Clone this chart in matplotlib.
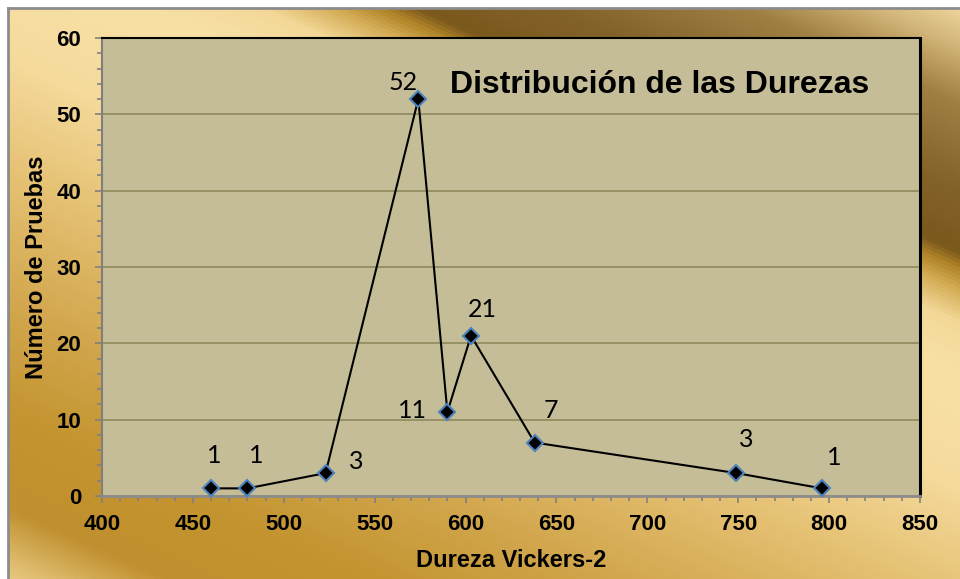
import numpy as np
import matplotlib.pyplot as plt
from matplotlib.colors import LinearSegmentedColormap

# Hardness distribution (Vickers) vs number of tests
dureza = [460, 480, 523, 574, 590, 603, 638, 749, 796]
pruebas = [1, 1, 3, 52, 11, 21, 7, 3, 1]

xticks = list(range(400, 851, 50))
yticks = list(range(0, 61, 10))

# where each value label sits relative to its point (points)
label_offsets = [(2, 24), (6, 24), (22, 8), (-11, 12), (-25, 1),
                 (8, 19), (12, 23), (7, 24), (9, 22)]

plt.rcParams['font.family'] = 'Liberation Sans'
plt.rcParams['font.weight'] = 'bold'
plt.rcParams['axes.labelweight'] = 'bold'

# gold gradient for the chart frame
stops = [(0.00, '#F7E0A8'), (0.05, '#D2B578'), (0.106, '#9F7F42'),
         (0.191, '#83622A'), (0.250, '#7B581C'), (0.266, '#B08428'),
         (0.287, '#D4AC55'), (0.319, '#F3D898'), (0.372, '#F8E0A5'),
         (0.479, '#F5DA9C'), (0.585, '#E6C275'), (0.723, '#D1A54B'),
         (0.830, '#C3942F'), (0.915, '#C0902E'), (0.957, '#D9B463'),
         (1.00, '#F0D593')]
gold = LinearSegmentedColormap.from_list('gold', stops)

fig = plt.figure(figsize=(9.6, 5.79), dpi=100)
fig.patch.set_facecolor('white')

W, H = 952, 571
bg = fig.add_axes([8 / 960, 0, W / 960, H / 579], zorder=0)
xx, yy = np.meshgrid(np.arange(W) + 8, np.arange(H) + 8)
t = (-0.41 * xx + 0.91 * yy + 400) / 940
bg.imshow(gold(np.clip(t, 0, 1)), aspect='auto', extent=(0, 1, 0, 1),
          origin='upper', interpolation='bilinear')
bg.set_xlim(0, 1)
bg.set_ylim(0, 1)
bg.set_xticks([])
bg.set_yticks([])
for side in ('right', 'bottom'):
    bg.spines[side].set_visible(False)
for side in ('left', 'top'):
    bg.spines[side].set_color('#8C8C8C')
    bg.spines[side].set_linewidth(2)

ax = fig.add_axes([102 / 960, 83 / 579, 818 / 960, 458 / 579], zorder=1)
ax.set_facecolor('#C4BD97')

ax.plot(dureza, pruebas, color='black', lw=1.5, marker='D', ms=8,
        mfc='black', mec='#4F81BD', mew=1.5, zorder=3, clip_on=False)

for x, y, (dx, dy) in zip(dureza, pruebas, label_offsets):
    ax.annotate(str(y), (x, y), xytext=(dx, dy), textcoords='offset points',
                ha='center', va='center', fontsize=18, fontweight='normal',
                family='Lato', color='black')

ax.set_xlim(400, 850)
ax.set_ylim(0, 60)
ax.set_xticks(xticks)
ax.set_xticks(range(400, 851, 10), minor=True)
ax.set_yticks(yticks)
ax.set_yticks(range(0, 61, 2), minor=True)

ax.yaxis.grid(True, which='major', color='#8F8A5C', lw=1.2)
ax.set_axisbelow(True)

ax.tick_params(which='both', direction='out', color='#808080', width=1.2)
ax.tick_params(which='major', length=5, labelsize=16)
ax.tick_params(which='minor', length=3.6)
ax.tick_params(axis='y', pad=10)
ax.tick_params(axis='x', pad=8)

ax.spines['top'].set_color('black')
ax.spines['top'].set_linewidth(1.5)
ax.spines['right'].set_color('black')
ax.spines['right'].set_linewidth(2.2)
ax.spines['left'].set_color('#7F7F7F')
ax.spines['left'].set_linewidth(1.5)
ax.spines['bottom'].set_color('#8C8C8C')
ax.spines['bottom'].set_linewidth(2)

ax.set_xlabel('Dureza Vickers-2', fontsize=17, va='center')
ax.xaxis.set_label_coords(0.5, -0.14)
ax.set_ylabel('Número de Pruebas', fontsize=17, va='center')
ax.yaxis.set_label_coords(-0.0806, 0.5)

ax.text(0.4254, 0.897, 'Distribución de las Durezas', transform=ax.transAxes,
        fontsize=23, fontweight='bold', ha='left', va='center')

fig.savefig('out.png', dpi=100)
